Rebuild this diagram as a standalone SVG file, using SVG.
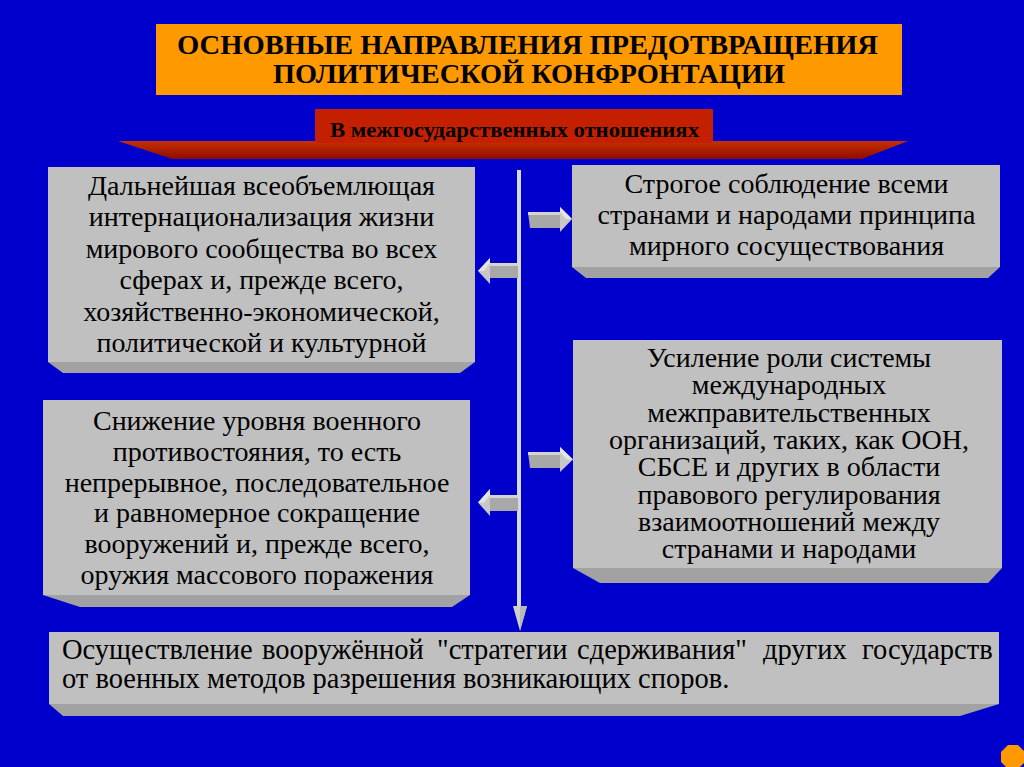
<svg xmlns="http://www.w3.org/2000/svg" width="1024" height="767" viewBox="0 0 1024 767">
<defs>
<linearGradient id="banner" x1="0" y1="0" x2="0" y2="1">
<stop offset="0" stop-color="#c83000"/>
<stop offset="1" stop-color="#8c0c00"/>
</linearGradient>
<style>
.face{fill:#c0c0c0;}
.bevel{fill:#a2a2a2;}
.t{font-size:28px;fill:#000;text-anchor:middle;}
.b5{font-size:28.5px;fill:#000;text-anchor:start;}
.h{font-weight:bold;fill:#000;}
.shaft{fill:#a8a8a8;}
.shafttop{fill:#d4d4d4;}
.head{fill:#c8c8c8;}
.headhi{fill:#e4e4e4;}
</style>
</defs>
<rect width="1024" height="767" fill="#0000cc"/>

<g font-family="Liberation Serif, Times New Roman, serif">
<g id="title">
<rect x="156" y="24" width="746" height="71" fill="#ff9900"/>
<text class="h" font-size="28" x="177" y="54" textLength="701" lengthAdjust="spacingAndGlyphs">ОСНОВНЫЕ НАПРАВЛЕНИЯ ПРЕДОТВРАЩЕНИЯ</text>
<text class="h" font-size="28" x="273" y="83" textLength="512" lengthAdjust="spacingAndGlyphs">ПОЛИТИЧЕСКОЙ КОНФРОНТАЦИИ</text>
</g>

<g id="subtitle">
<polygon points="118,141 908,141 862,159 172,159" fill="url(#banner)"/>
<rect x="315" y="109" width="398" height="34" fill="#c42000"/>
<text class="h" font-size="20" x="330" y="137" textLength="369" lengthAdjust="spacingAndGlyphs">В межгосударственных отношениях</text>
</g>

<g id="connectors">
<rect x="517" y="170" width="4" height="438" fill="#d8d8d8"/>
<polygon points="513,606 527,606 520,631" fill="#d0d0d0"/>
<polygon points="520,606 527,606 520,631" fill="#b8b8b8"/>
<g>
<polygon class="shaft" points="528,212 560,212 560,228 530,228"/>
<polygon class="shafttop" points="528,212 560,212 560,215 528,215"/>
<polygon class="head" points="560,207 572,219 560,232"/>
<polygon class="headhi" points="560,207 572,219 566,219 560,212"/>
</g>
<g>
<polygon class="shaft" points="490,263 518,263 518,278 490,278"/>
<polygon class="shafttop" points="490,263 518,263 518,266 490,266"/>
<polygon class="head" points="490,258 478,271 490,284"/>
<polygon class="headhi" points="490,258 478,271 484,271 490,263"/>
</g>
<g>
<polygon class="shaft" points="528,452 560,452 560,468 530,468"/>
<polygon class="shafttop" points="528,452 560,452 560,455 528,455"/>
<polygon class="head" points="560,447 573,459.5 560,472"/>
<polygon class="headhi" points="560,447 573,459.5 567,459.5 560,452"/>
</g>
<g>
<polygon class="shaft" points="490,495 518,495 518,511 490,511"/>
<polygon class="shafttop" points="490,495 518,495 518,498 490,498"/>
<polygon class="head" points="490,489 478,502.5 490,516"/>
<polygon class="headhi" points="490,489 478,502.5 484,502.5 490,495"/>
</g>
</g>

<g id="box1">
<polygon class="bevel" points="48,362 475,362 460,373 63,373"/>
<rect class="face" x="48" y="167" width="427" height="195"/>
<text class="t" x="261.5" y="195">Дальнейшая всеобъемлющая</text>
<text class="t" x="261.5" y="226">интернационализация жизни</text>
<text class="t" x="261.5" y="258">мирового сообщества во всех</text>
<text class="t" x="261.5" y="289">сферах и, прежде всего,</text>
<text class="t" x="261.5" y="321">хозяйственно-экономической,</text>
<text class="t" x="261.5" y="352">политической и культурной</text>
</g>

<g id="box2">
<polygon class="bevel" points="572,267 1000,267 988,278 586,278"/>
<rect class="face" x="572" y="165" width="428" height="102"/>
<text class="t" x="786.5" y="193">Строгое соблюдение всеми</text>
<text class="t" x="786.5" y="224">странами и народами принципа</text>
<text class="t" x="786.5" y="255">мирного сосуществования</text>
</g>

<g id="box3">
<polygon class="bevel" points="43,595 470,595 452,607 80,607"/>
<rect class="face" x="43" y="400" width="427" height="195"/>
<text class="t" x="257" y="430">Снижение уровня военного</text>
<text class="t" x="257" y="461">противостояния, то есть</text>
<text class="t" x="257" y="492">непрерывное, последовательное</text>
<text class="t" x="257" y="522">и равномерное сокращение</text>
<text class="t" x="257" y="553">вооружений и, прежде всего,</text>
<text class="t" x="257" y="584">оружия массового поражения</text>
</g>

<g id="box4">
<polygon class="bevel" points="573,568 1002,568 988,583 600,583"/>
<rect class="face" x="573" y="340" width="429" height="228"/>
<text class="t" x="789" y="367">Усиление роли системы</text>
<text class="t" x="789" y="394">международных</text>
<text class="t" x="789" y="421.5">межправительственных</text>
<text class="t" x="789" y="449">организаций, таких, как ООН,</text>
<text class="t" x="789" y="476">СБСЕ и других в области</text>
<text class="t" x="789" y="503.5">правового регулирования</text>
<text class="t" x="789" y="531">взаимоотношений между</text>
<text class="t" x="789" y="558">странами и народами</text>
</g>

<g id="box5">
<polygon class="bevel" points="49,704 999,704 960,716 63,716"/>
<rect class="face" x="49" y="632" width="950" height="72"/>
<text class="b5" y="659"><tspan x="62">Осуществление</tspan><tspan x="262">вооружённой</tspan><tspan x="437">"стратегии</tspan><tspan x="577">сдерживания"</tspan><tspan x="763">других</tspan><tspan x="862">государств</tspan></text>
<text class="b5" x="62" y="688">от военных методов разрешения возникающих споров.</text>
</g>
</g>

<polygon points="1008,745 1018,745 1025,752 1025,762 1018,769 1008,769 1001,762 1001,752" fill="#ff9900"/>
</svg>
